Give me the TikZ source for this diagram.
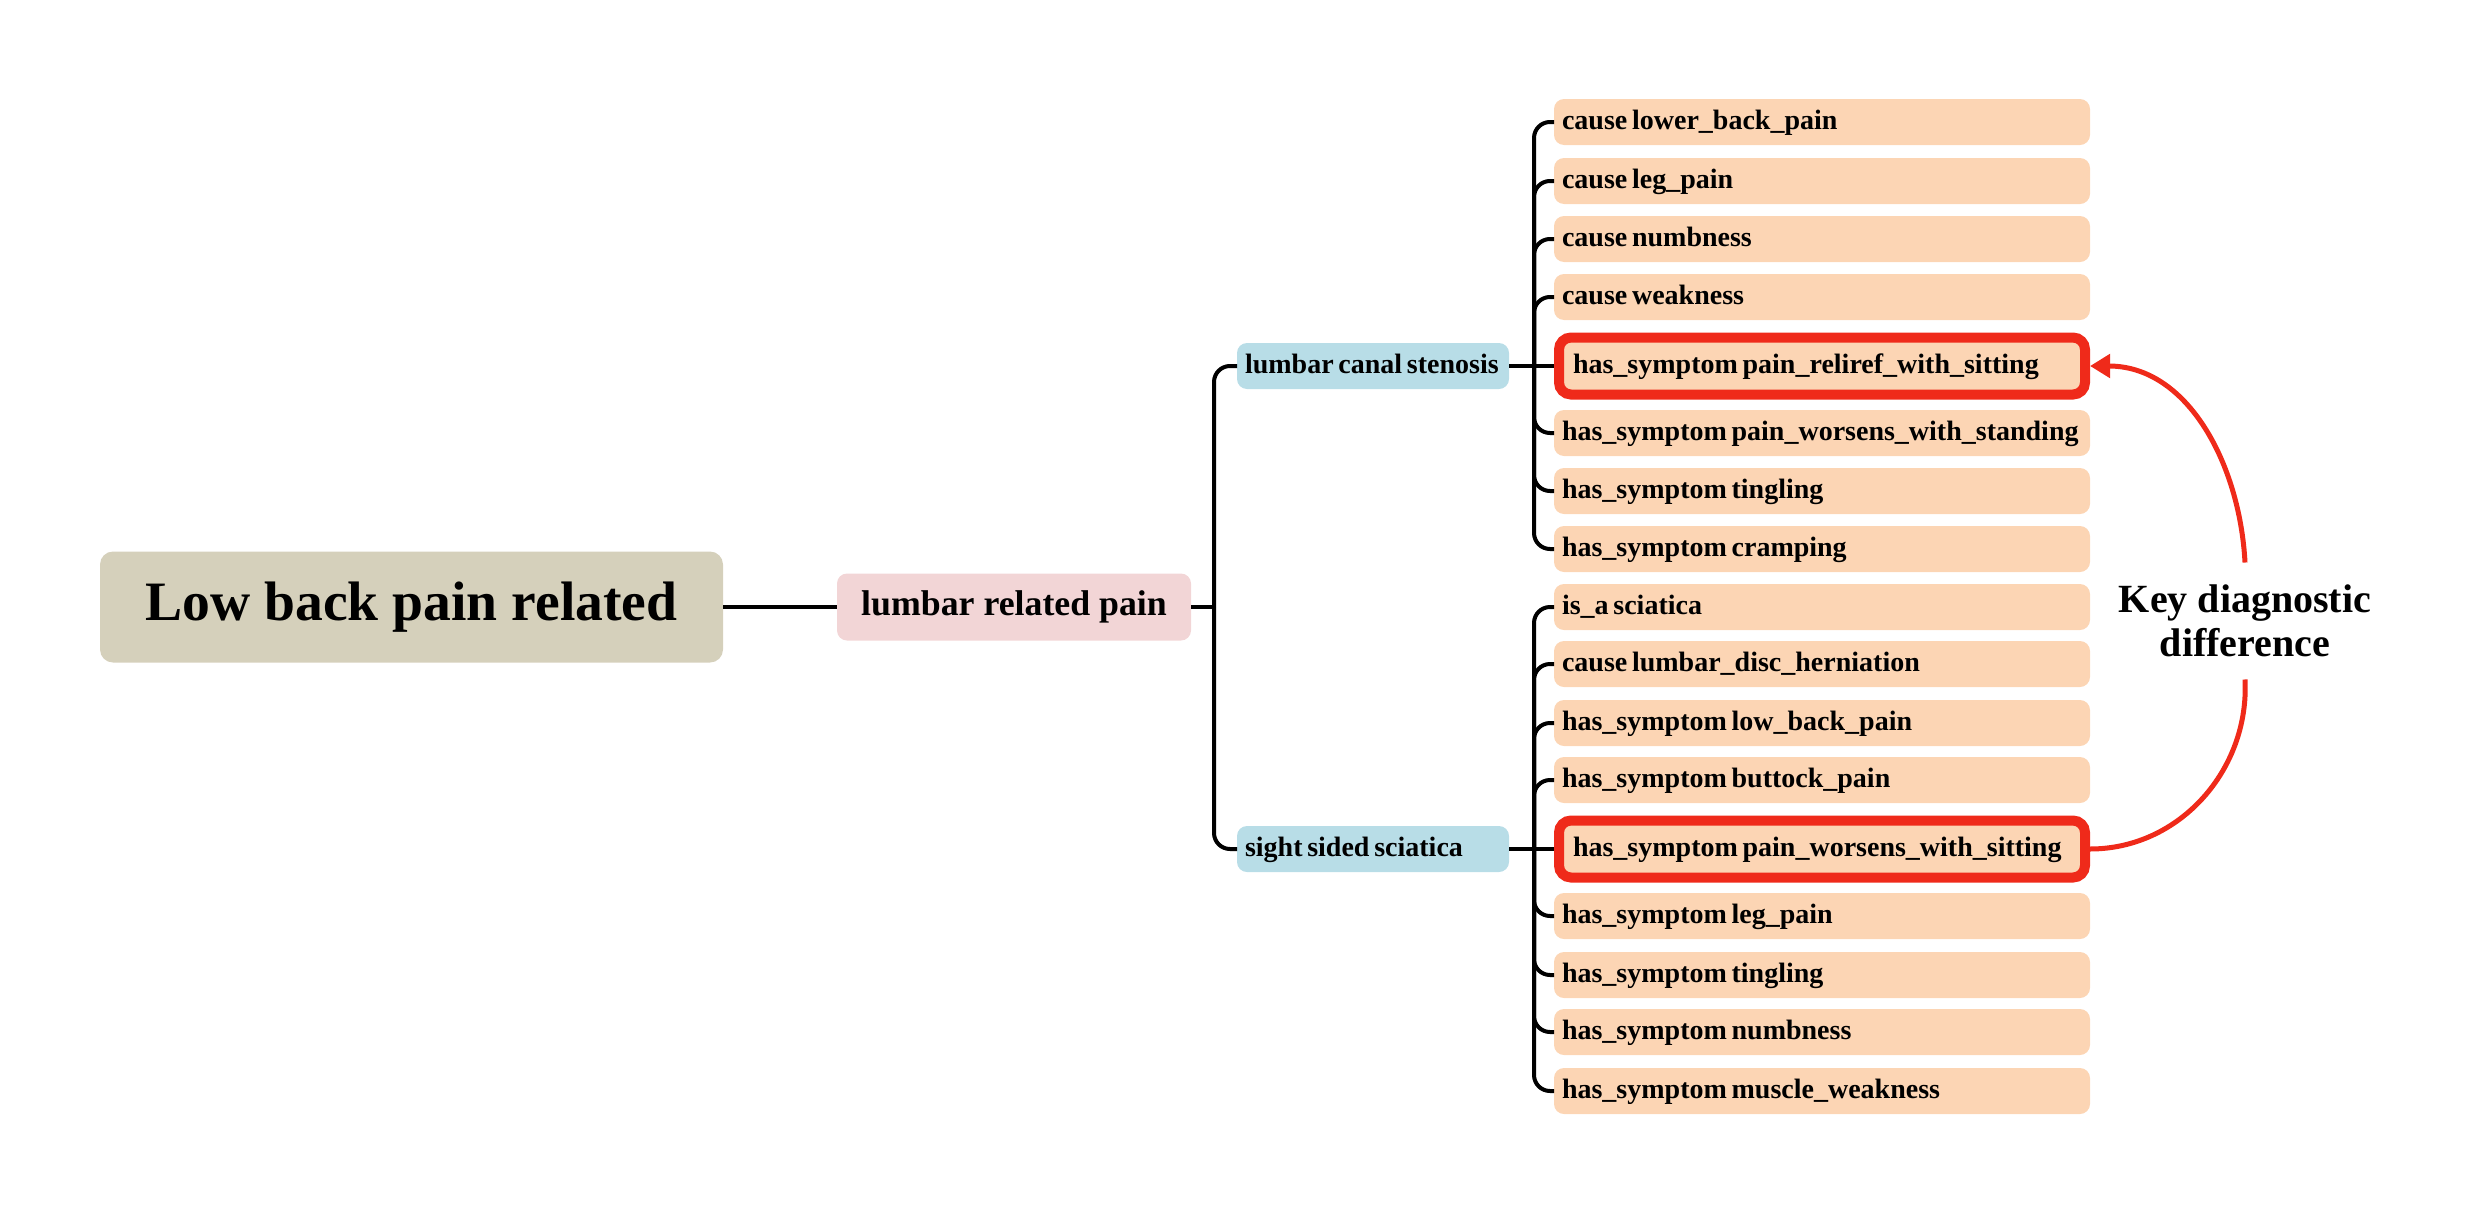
\documentclass[tikz,border=0pt]{standalone}
\usepackage{fontspec}
\setmainfont{Liberation Serif}
\usetikzlibrary{arrows.meta}
\definecolor{rootc}{HTML}{D5D0BB}
\definecolor{lrpc}{HTML}{F2D5D6}
\definecolor{bluec}{HTML}{B8DDE7}
\definecolor{leafc}{HTML}{FCD5B4}
\definecolor{redc}{HTML}{EF2A1A}
\newcommand{\smallbold}{\bfseries\fontsize{14}{16}\selectfont}
\newcommand{\leafl}[1]{\mbox{\spaceskip=0.17em\relax #1}}
\begin{document}
\begin{tikzpicture}[x=0.5pt,y=-0.5pt,
  conn/.style={line width=2pt, draw=black, rounded corners=8pt},
  rootbox/.style={fill=rootc, rounded corners=6.5pt, minimum width=311.5pt, minimum height=55.5pt,
    font=\bfseries\fontsize{27.8}{30}\selectfont, inner sep=0pt, outer sep=0pt},
  lrpbox/.style={fill=lrpc, rounded corners=5pt, minimum width=177pt, minimum height=33.5pt,
    font=\bfseries\fontsize{17.9}{20}\selectfont, inner sep=0pt, outer sep=0pt},
  midbox/.style={fill=bluec, rounded corners=5pt, text width=128pt, align=left, inner xsep=4pt,
    inner ysep=0pt, minimum height=23pt, font=\smallbold,
    text height=10pt, text depth=3pt, outer sep=0pt},
  leafbox/.style={fill=leafc, rounded corners=5pt, text width=260pt, align=left, inner xsep=4pt,
    inner ysep=0pt, minimum height=23pt, font=\smallbold,
    text height=10pt, text depth=3pt, outer sep=0pt},
  keybox/.style={draw=redc, line width=5pt, fill=leafc, rounded corners=6pt, text width=249pt,
    align=left, inner xsep=7pt, inner ysep=0pt, minimum height=28.5pt,
    font=\smallbold, text height=10pt, text depth=3pt, outer sep=2.5pt},
  keytext/.style={font=\bfseries\fontsize{20}{22}\selectfont, align=center, inner xsep=2pt, inner ysep=11pt},
  redline/.style={draw=redc, line width=2.5pt},
]
\useasboundingbox (0,0) rectangle (2486,1216);

% main nodes
\node[rootbox] (root) at (411.5,607) {Low back pain related};
\node[lrpbox] (lrp) at (1014,607) {lumbar related pain};
\node[midbox] (lcs) at (1373,366) {\leafl{lumbar canal stenosis}};
\node[midbox] (sss) at (1373,849) {\leafl{sight sided sciatica}};

% leaves, upper group
\node[leafbox] (a1) at (1822,122) {\leafl{cause lower\_back\_pain}};
\node[leafbox] (a2) at (1822,181) {\leafl{cause leg\_pain}};
\node[leafbox] (a3) at (1822,239) {\leafl{cause numbness}};
\node[leafbox] (a4) at (1822,297) {\leafl{cause weakness}};
\node[keybox]  (k1) at (1822,366) {\leafl{has\_symptom pain\_reliref\_with\_sitting}};
\node[leafbox] (a6) at (1822,433) {\leafl{has\_symptom pain\_worsens\_with\_standing}};
\node[leafbox] (a7) at (1822,491) {\leafl{has\_symptom tingling}};
\node[leafbox] (a8) at (1822,549) {\leafl{has\_symptom cramping}};

% leaves, lower group
\node[leafbox] (b1) at (1822,607) {\leafl{is\_a sciatica}};
\node[leafbox] (b2) at (1822,664) {\leafl{cause lumbar\_disc\_herniation}};
\node[leafbox] (b3) at (1822,723) {\leafl{has\_symptom low\_back\_pain}};
\node[leafbox] (b4) at (1822,780) {\leafl{has\_symptom buttock\_pain}};
\node[keybox]  (k2) at (1822,849) {\leafl{has\_symptom pain\_worsens\_with\_sitting}};
\node[leafbox] (b6) at (1822,916) {\leafl{has\_symptom leg\_pain}};
\node[leafbox] (b7) at (1822,975) {\leafl{has\_symptom tingling}};
\node[leafbox] (b8) at (1822,1032) {\leafl{has\_symptom numbness}};
\node[leafbox] (b9) at (1822,1091) {\leafl{has\_symptom muscle\_weakness}};

\node[keytext] (key) at (2245,621) {Key diagnostic\\difference};

% spine coordinates
\coordinate (spL) at (1214,0);
\coordinate (spR) at (1534,0);

% connectors
\draw[conn] (root.east) -- (lrp.west);
\draw[conn] (lrp.east) -- (lrp.east -| spL);
\draw[conn] (lrp.east -| spL) |- (lcs.west);
\draw[conn] (lrp.east -| spL) |- (sss.west);

\draw[conn] (lcs.east) -- (k1.west);
\foreach \n in {a1,a2,a3,a4,a6,a7,a8}
  \draw[conn] (lcs.east -| spR) |- (\n.west);

\draw[conn] (sss.east) -- (k2.west);
\foreach \n in {b1,b2,b3,b4,b6,b7,b8,b9}
  \draw[conn] (sss.east -| spR) |- (\n.west);

% key arrow
\draw[redline] (k2.east) to[out=0,in=-87] (key.south);
\draw[redline, -{Triangle[length=10pt,width=11.5pt]}] (key.north) to[out=93,in=0] (k1.east);
\end{tikzpicture}
\end{document}
